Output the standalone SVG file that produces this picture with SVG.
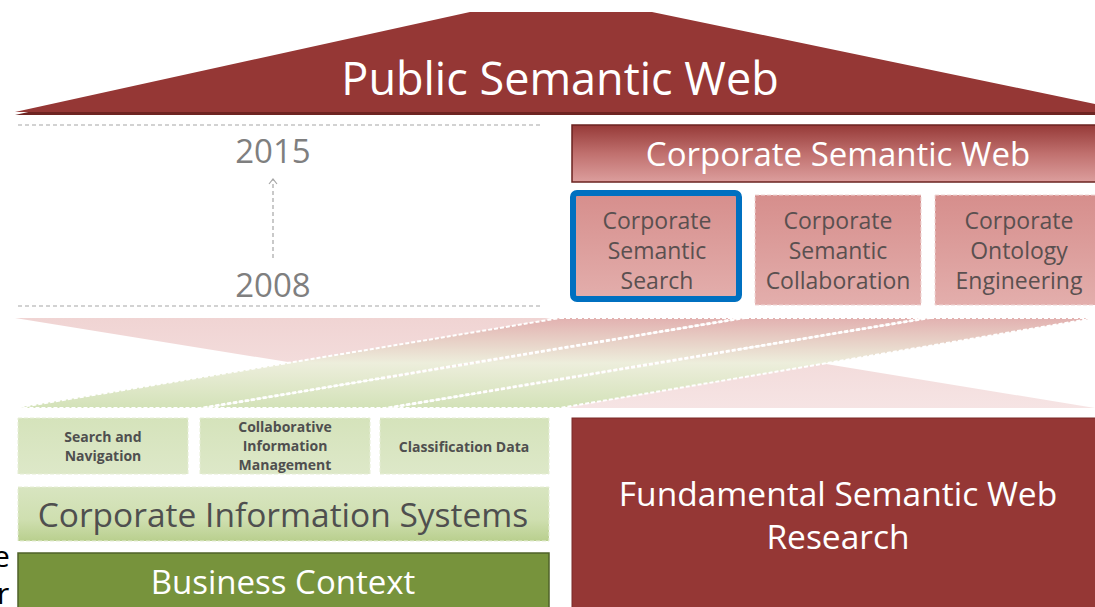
<svg xmlns="http://www.w3.org/2000/svg" width="1095" height="607" viewBox="0 0 1095 607">
<defs>
<style>
.t{font-family:"Open Sans","Liberation Sans",sans-serif;text-anchor:middle}
.w{fill:#ffffff}
.g{fill:#7f7f7f}
.d{fill:#5a5050}
.gb{fill:#4f4f4f;font-weight:bold;font-size:14px}
.dash{stroke:#a6a6a6;stroke-width:1.2;stroke-dasharray:4 3;fill:none}
</style>
<linearGradient id="csw" x1="0" y1="0" x2="0" y2="1">
<stop offset="0" stop-color="#963a38"/>
<stop offset="0.5" stop-color="#c0706e"/>
<stop offset="1" stop-color="#dc9e9d"/>
</linearGradient>
<linearGradient id="pbox" x1="0" y1="0" x2="0" y2="1">
<stop offset="0" stop-color="#d68e8c"/>
<stop offset="1" stop-color="#e3aeac"/>
</linearGradient>
<linearGradient id="band" x1="0" y1="318" x2="0" y2="408" gradientUnits="userSpaceOnUse">
<stop offset="0" stop-color="#e2b1b0"/>
<stop offset="0.5" stop-color="#edeedc"/>
<stop offset="1" stop-color="#d3e2b8"/>
</linearGradient>
<linearGradient id="pinkx" x1="0" y1="318" x2="0" y2="408" gradientUnits="userSpaceOnUse">
<stop offset="0" stop-color="#f0d4d3"/>
<stop offset="1" stop-color="#f6e4e4"/>
</linearGradient>
<linearGradient id="gbox" x1="0" y1="0" x2="0" y2="1">
<stop offset="0" stop-color="#d5e3bb"/>
<stop offset="1" stop-color="#dde8c8"/>
</linearGradient>
<linearGradient id="cis" x1="0" y1="0" x2="0" y2="1">
<stop offset="0" stop-color="#d8e5c0"/>
<stop offset="0.6" stop-color="#cfdfb0"/>
<stop offset="1" stop-color="#b9cf8e"/>
</linearGradient>
<marker id="arr" viewBox="0 0 10 10" refX="8" refY="5" markerWidth="10" markerHeight="10" markerUnits="userSpaceOnUse" orient="auto">
<path d="M3,1 L8,5 L3,9" fill="none" stroke="#a6a6a6" stroke-width="1.2"/>
</marker>
</defs>
<rect width="1095" height="607" fill="#ffffff"/>

<g id="public-semantic-web">
<polygon points="470,13 652,13 1095,106 1095,115 15,115" fill="#6e2422"/>
<polygon points="470,12 652,12 1095,104 1095,112 15,112" fill="#953735"/>
<text class="t w" x="560" y="95" font-size="45">Public Semantic Web</text>
</g>

<g id="timeline">
<line class="dash" x1="18" y1="125" x2="543" y2="125"/>
<line class="dash" x1="18" y1="306" x2="543" y2="306"/>
<text class="t g" x="273" y="163" font-size="33">2015</text>
<text class="t g" x="273" y="297" font-size="33">2008</text>
</g>

<g id="connectors">
<line class="dash" x1="273" y1="258" x2="273" y2="179" marker-end="url(#arr)"/>
<polygon points="15,318 545,318 1095,408 572,408" fill="url(#pinkx)"/>
<g stroke="#ffffff" stroke-width="2" stroke-dasharray="4 2">
<polygon points="560,318 740,318 200,408 15,408" fill="url(#band)"/>
<polygon points="745,318 925,318 385,408 205,408" fill="url(#band)"/>
<polygon points="930,318 1095,318 560,408 390,408" fill="url(#band)"/>
</g>
</g>

<g id="corporate-semantic-web">
<rect x="572" y="125" width="530" height="57" fill="url(#csw)" stroke="#6b2321" stroke-width="1.5"/>
<text class="t w" x="838" y="166" font-size="33">Corporate Semantic Web</text>
</g>

<g id="corporate-semantic-search">
<rect x="573" y="193" width="166" height="106" rx="4" fill="url(#pbox)" stroke="#0070c0" stroke-width="6"/>
<text class="t d" x="657" y="229" font-size="23">Corporate</text>
<text class="t d" x="657" y="259" font-size="23">Semantic</text>
<text class="t d" x="657" y="289" font-size="23">Search</text>
</g>

<g id="corporate-semantic-collaboration">
<rect x="755" y="195" width="166" height="110" fill="url(#pbox)" stroke="#efd6d5" stroke-width="1" stroke-dasharray="4 2"/>
<text class="t d" x="838" y="229" font-size="23">Corporate</text>
<text class="t d" x="838" y="259" font-size="23">Semantic</text>
<text class="t d" x="838" y="289" font-size="23">Collaboration</text>
</g>

<g id="corporate-ontology-engineering">
<rect x="935" y="195" width="165" height="110" fill="url(#pbox)" stroke="#efd6d5" stroke-width="1" stroke-dasharray="4 2"/>
<text class="t d" x="1019" y="229" font-size="23">Corporate</text>
<text class="t d" x="1019" y="259" font-size="23">Ontology</text>
<text class="t d" x="1019" y="289" font-size="23">Engineering</text>
</g>

<g id="search-and-navigation">
<rect x="18" y="418" width="170" height="56" fill="url(#gbox)" stroke="#e6eed6" stroke-dasharray="4 2"/>
<text class="t gb" x="103" y="442">Search and</text>
<text class="t gb" x="103" y="461">Navigation</text>
</g>

<g id="collaborative-information-management">
<rect x="200" y="418" width="170" height="56" fill="url(#gbox)" stroke="#e6eed6" stroke-dasharray="4 2"/>
<text class="t gb" x="285" y="432">Collaborative</text>
<text class="t gb" x="285" y="451">Information</text>
<text class="t gb" x="285" y="470">Management</text>
</g>

<g id="classification-data">
<rect x="380" y="418" width="169" height="56" fill="url(#gbox)" stroke="#e6eed6" stroke-dasharray="4 2"/>
<text class="t gb" x="464" y="452">Classification Data</text>
</g>

<g id="corporate-information-systems">
<rect x="18" y="487" width="531" height="54" fill="url(#cis)" stroke="#e6eed6" stroke-dasharray="4 2"/>
<text class="t" x="283" y="527" font-size="33.5" fill="#4f4f4f">Corporate Information Systems</text>
</g>

<g id="business-context">
<rect x="18" y="553" width="531" height="60" fill="#77933c" stroke="#4f6228" stroke-width="1.5"/>
<text class="t w" x="283" y="594" font-size="33">Business Context</text>
</g>

<g id="fundamental-semantic-web-research">
<rect x="572" y="418" width="530" height="195" fill="#953735" stroke="#7a2a28" stroke-width="1"/>
<text class="t w" x="838" y="506" font-size="33.5">Fundamental Semantic Web</text>
<text class="t w" x="838" y="549" font-size="33.5">Research</text>
</g>

<g id="edge-text">
<text x="-7" y="567" font-family="'Open Sans',sans-serif" font-size="30" fill="#000000">e</text>
<text x="-3" y="604" font-family="'Open Sans',sans-serif" font-size="30" fill="#000000">r</text>
</g>
</svg>
